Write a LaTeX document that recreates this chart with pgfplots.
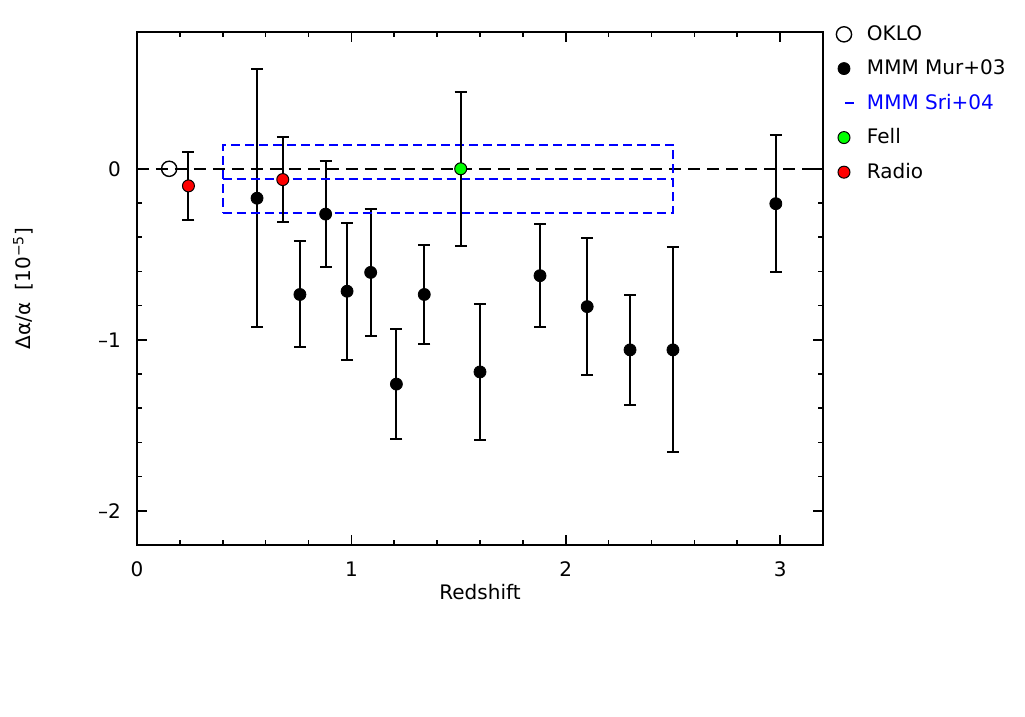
\documentclass[border=0pt]{standalone}
\usepackage{fontspec}
\setmainfont{DejaVu Sans}
\usepackage{pgfplots}
\pgfplotsset{compat=1.18}
\usetikzlibrary{calc}
\definecolor{mmmblue}{RGB}{0,0,255}
\definecolor{fellgreen}{RGB}{0,255,0}
\definecolor{radiored}{RGB}{255,0,0}
\pgfplotsset{
  yerr/.style={error bars/.cd, y dir=both, y explicit,
    error bar style={black, line width=1pt, solid},
    error mark options={black, line width=1pt, mark size=3pt, rotate=90}},
}

\begin{document}
\begin{tikzpicture}
\begin{axis}[
  name=ax,
  scale only axis,
  width=343pt, height=256.5pt,
  xmin=0, xmax=3.2, ymin=-2.2, ymax=0.8,
  xtick={0,1,2,3}, xticklabels={0,1,2,3},
  ytick={-2,-1,0}, yticklabels={–2,–1,0},
  minor x tick num=4, minor y tick num=4,
  tick align=inside, tick pos=both,
  major tick length=5pt, minor tick length=2.5pt,
  every tick/.style={black, line width=0.8pt},
  axis line style={line width=1pt},
  font=\fontsize{10}{12}\selectfont,
  xticklabel style={anchor=base, yshift=-16pt},
  yticklabel style={anchor=east, xshift=-4.5pt},
  xlabel={Redshift},
  ylabel={Δα/α\ \ [10\textsuperscript{−5}]},
  xlabel style={at={(axis description cs:0.5,-0.107)}, anchor=base},
  ylabel style={at={(axis description cs:-0.155,0.5)}, anchor=base},
  legend style={draw=none, fill=none, at={(1,1)}, anchor=north west,
    xshift=3.5pt, yshift=7.5pt, row sep=4.2pt, column sep=3pt,
    font=\fontsize{10}{12}\selectfont, cells={anchor=west}},
  legend cell align=left,
  legend image code/.code={\draw[#1] plot coordinates {(0pt,0pt)};},
]
% zero line
\addplot[black, line width=0.8pt, dash pattern=on 6pt off 3.5pt, forget plot]
  coordinates {(0,0) (3.2,0)};

% OKLO
\addplot[only marks, mark=o, mark size=3.8pt, black, line width=0.7pt]
  coordinates {(0.15,0)};
\addlegendentry{OKLO}

% MMM Mur+03
\addplot[only marks, mark=*, mark size=3pt, black, yerr]
  coordinates {
  (0.56,-0.172) +- (0,0.753)
  (0.76,-0.735) +- (0,0.31)
  (0.88,-0.265) +- (0,0.31)
  (0.98,-0.716) +- (0,0.40)
  (1.09,-0.606) +- (0,0.372)
  (1.21,-1.259) +- (0,0.32)
  (1.34,-0.735) +- (0,0.29)
  (1.60,-1.188) +- (0,0.40)
  (1.88,-0.625) +- (0,0.30)
  (2.10,-0.806) +- (0,0.40)
  (2.30,-1.059) +- (0,0.32)
  (2.50,-1.059) +- (0,0.60)
  (2.98,-0.204) +- (0,0.40)
  };
\addlegendentry{MMM Mur+03}

% MMM Sri+04 box
\addplot[mmmblue, line width=0.8pt, dash pattern=on 4.5pt off 2.5pt,
  legend image code/.code={\draw[mmmblue, line width=1pt] (0.5pt,0pt) -- (6pt,0pt);}]
  coordinates {(0.4,-0.26) (2.5,-0.26) (2.5,0.14) (0.4,0.14) (0.4,-0.26)};
\addlegendentry{\textcolor{mmmblue}{MMM Sri+04}}
\addplot[mmmblue, line width=0.8pt, dash pattern=on 4.5pt off 2.5pt, forget plot]
  coordinates {(0.4,-0.06) (2.5,-0.06)};

% Fell
\addplot[only marks, mark=*, mark size=3pt, black, line width=0.5pt,
  mark options={fill=fellgreen}, yerr]
  coordinates {(1.51,0) +- (0,0.45)};
\addlegendentry{Fell}

% Radio
\addplot[only marks, mark=*, mark size=3pt, black, line width=0.5pt,
  mark options={fill=radiored}, yerr]
  coordinates {(0.24,-0.10) +- (0,0.20) (0.68,-0.063) +- (0,0.25)};
\addlegendentry{Radio}
\end{axis}
\pgfresetboundingbox
\path[use as bounding box] ($(ax.south west)+(-68.5pt,-86pt)$) rectangle ++(512.5pt,358.5pt);
\end{tikzpicture}
\end{document}
